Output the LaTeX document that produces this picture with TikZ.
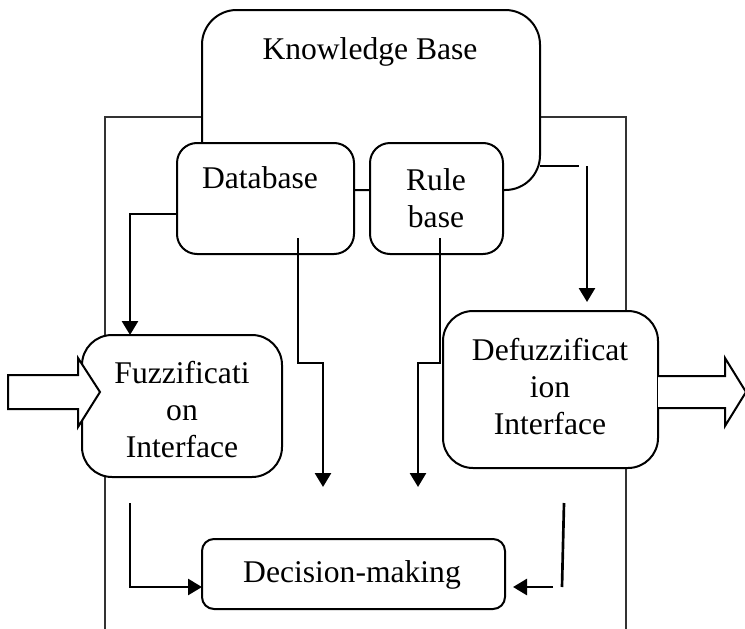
\documentclass[tikz,border=0pt]{standalone}
\usepackage{fontspec}
\setmainfont{Liberation Serif}
\usetikzlibrary{arrows.meta}
\begin{document}
\begin{tikzpicture}[x=0.75pt,y=-0.75pt,
  box/.style={draw=black,line width=1.5pt,fill=white,inner sep=0pt,outer sep=0pt,align=center},
  txt/.style={inner sep=0pt,align=center},
  conn/.style={draw=black,line width=2pt},
  arr/.style={conn,-{Triangle[length=10.5pt,width=12pt]}},
  frame/.style={draw=black!80,line width=0.9pt},
  blockarrow/.style={draw=black,line width=1.5pt,fill=white,line join=miter}]
\useasboundingbox[fill=white] (0,0) rectangle (745,628);
\fontsize{23.7pt}{27.75pt}\selectfont
% outer frame
\draw[frame] (105,640) -- (105,117) -- (626,117) -- (626,640);
% knowledge base
\node[box,rounded corners=26pt,minimum width=253.5pt,minimum height=135pt] (kb) at (371,100) {};
\node[txt] (kbt) at (370,52) {Knowledge Base};
% database and rule base
\draw[line width=1.5pt] (354,190) -- (370,190);
\node[box,rounded corners=15pt,minimum width=132.75pt,minimum height=83.25pt] (db) at (265.5,198.5) {};
\node[txt] (dbt) at (260,178) {Database};
\node[box,rounded corners=15pt,minimum width=99.75pt,minimum height=83.25pt] (rb) at (436.5,198.5) {};
\node[txt] (rbt) at (436,198) {Rule\\base};
% fuzzification / defuzzification
\node[box,rounded corners=22.5pt,minimum width=150pt,minimum height=106.5pt] (fz) at (182,406) {};
\node[txt] (fzt) at (182,410) {Fuzzificati\\on\\Interface};
\node[box,rounded corners=22.5pt,minimum width=161.25pt,minimum height=117.75pt] (dz) at (550.5,389.5) {};
\node[txt] (dzt) at (550,387) {Defuzzificat\\ion\\Interface};
% decision making
\node[box,rounded corners=9pt,minimum width=227.25pt,minimum height=52.5pt] (dm) at (353.5,574) {};
\node[txt] (dmt) at (352,575) {Decision-making};
% block arrows
\draw[blockarrow] (8,375) -- (78,375) -- (78,358) -- (100,392) -- (78,427) -- (78,409) -- (8,409) -- cycle;
\draw[blockarrow] (dz.east |- 0,376) -- (725,376) -- (725,358) -- (746,392) -- (725,426) -- (725,408) -- (dz.east |- 0,408);
% coordinates
\coordinate (c1) at (130,335);
\coordinate (c2) at (323,487);
\coordinate (c3) at (418,487);
\coordinate (c4a) at (579,166);
\coordinate (c4b) at (587,166);
\coordinate (c4c) at (587,302);
\coordinate (c5) at (130,503);
\coordinate (c6a) at (564,503);
\coordinate (c6b) at (562,587);
\coordinate (c6c) at (553,587);
% connectors
\draw[arr] ([yshift=-11.6pt]db.west) -| (c1);
\draw[arr] ([xshift=24.4pt,yshift=12pt]db.south) |- (323,363) -- (c2);
\draw[arr] ([xshift=2.6pt,yshift=12pt]rb.south) |- (418,363) -- (c3);
\draw[conn] ([yshift=-49.5pt]kb.east) -- (c4a);
\draw[arr] (c4b) -- (c4c);
\draw[arr] (c5) |- ([yshift=-9.75pt]dm.west);
\draw[conn] (c6a) -- (c6b);
\draw[arr] (c6c) -- ([xshift=6pt,yshift=-9.75pt]dm.east);
\end{tikzpicture}
\end{document}
